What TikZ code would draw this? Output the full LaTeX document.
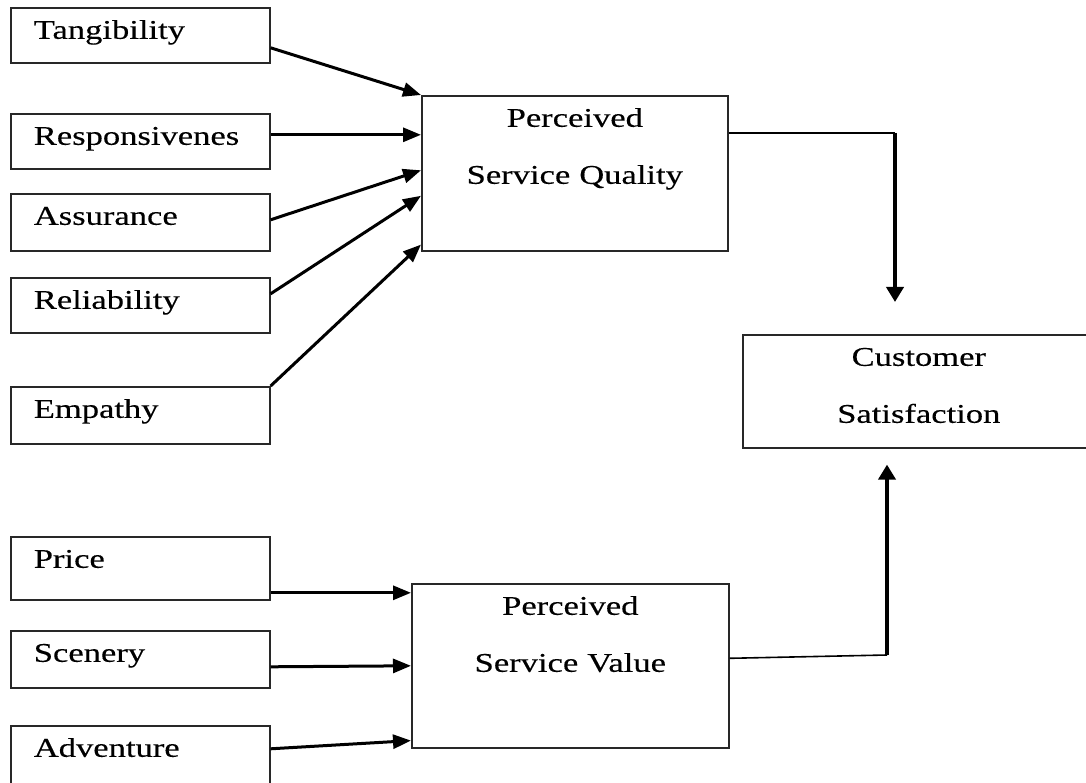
\documentclass[tikz,border=0pt]{standalone}
\usepackage{fontspec}
\setmainfont{Liberation Serif}[FakeStretch=1.28,FakeBold=0.3]
\usetikzlibrary{arrows.meta,calc}
\definecolor{boxgray}{RGB}{40,40,40}
\tikzset{
  factor/.style={draw=boxgray,line width=1.6pt,anchor=north west,inner xsep=23pt,inner ysep=0pt,text width=213pt,align=left,text height=31pt},
  construct/.style={draw=boxgray,line width=1.6pt,anchor=north west,inner sep=0pt,align=center,text height=31pt},
  link/.style={line width=3pt,-{Triangle[length=18pt,width=14pt]}},
  feed/.style={line width=1.6pt},
  rise/.style={line width=4.6pt,-{Triangle[length=15pt,width=17pt]}}
}
\begin{document}
\begin{tikzpicture}[x=1pt,y=-1pt,font=\fontsize{27}{57}\selectfont]
\path[use as bounding box,fill=white] (0,0) rectangle (1086,783);
\node[factor,text depth=24pt] (tan) at (10,7) {Tangibility};
\node[factor,text depth=24pt] (resp) at (10,113) {Responsivenes};
\node[factor,text depth=26pt] (ass) at (10,193) {Assurance};
\node[factor,text depth=24pt] (rel) at (10,277) {Reliability};
\node[factor,text depth=26pt] (emp) at (10,386) {Empathy};
\node[factor,text depth=32pt] (price) at (10,536) {Price};
\node[factor,text depth=26pt] (scen) at (10,630) {Scenery};
\node[factor,text depth=40pt] (adv) at (10,725) {Adventure};
\node[construct,text width=306pt,text depth=124pt] (psq) at (421,95) {Perceived\\Service Quality};
\node[construct,text width=317pt,text depth=133pt] (psv) at (411,583) {Perceived\\Service Value};
\node[construct,text width=352pt,text depth=82pt] (cs) at (742,334) {Customer\\Satisfaction};
\coordinate (qturn) at (895,133);
\coordinate (vturn) at (887,655);
\draw[link] ($(tan.east)+(0,12.5)$) -- (psq.north west);
\draw[link] ($(resp.east)+(0,-6.5)$) -- ($(psq.west)+(0,-38.5)$);
\draw[link] ($(ass.east)+(0,-2.5)$) -- ($(psq.west)+(0,-3)$);
\draw[link] ($(rel.east)+(0,-11.5)$) -- ($(psq.west)+(0,22.5)$);
\draw[link] (emp.north east) -- ($(psq.south west)+(0,-7)$);
\draw[link] ($(price.east)+(0,24.5)$) -- ($(price.east -| psv.west)+(0,24.5)$);
\draw[link] ($(scen.east)+(0,7.5)$) -- (psv.west);
\draw[link] ($(adv.east)+(0,-12.5)$) -- ($(psv.south west)+(0,-8)$);
\draw[feed] (psq.east |- qturn) -- (qturn);
\draw[rise] (qturn) -- ($(qturn |- cs.north)+(0,-32)$);
\draw[feed] ($(psv.east)+(0,-7.5)$) -- (vturn);
\draw[rise] (vturn) -- ($(vturn |- cs.south)+(0,16)$);
\end{tikzpicture}
\end{document}
